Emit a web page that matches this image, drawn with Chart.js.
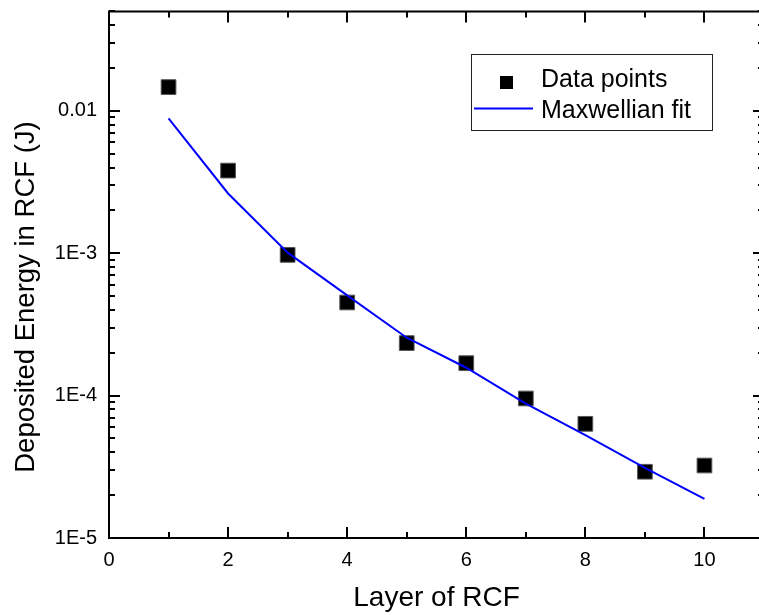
<!DOCTYPE html>
<html><head><meta charset="utf-8">
<script src="https://cdn.jsdelivr.net/npm/chart.js@4/dist/chart.umd.min.js"></script>
<style>html,body{margin:0;padding:0;background:#fff;overflow:hidden;width:759px;height:615px}
canvas{display:block}</style></head>
<body><canvas id="c" width="780" height="615" style="width:780px;height:615px"></canvas>
<script>
// ---- data ----
const layers = [1, 2, 3, 4, 5, 6, 7, 8, 9, 10];
const dataPoints = [0.0147, 0.00381, 0.000975, 0.000451, 0.000234, 0.000169, 0.0000955, 0.0000634, 0.0000292, 0.0000323];
const fitValues = [0.00886, 0.00263, 0.00101, 0.000506, 0.000255, 0.000157, 0.000088, 0.0000528, 0.0000311, 0.0000188];
const seriesLabels = ['Data points', 'Maxwellian fit'];
const xTickValues = [0, 2, 4, 6, 8, 10];
const xMinorTickValues = [1, 3, 5, 7, 9];
const yTickValues = [1e-5, 1e-4, 1e-3, 1e-2];
const yTickLabels = ['1E-5', '1E-4', '1E-3', '0.01'];
const xTitle = 'Layer of RCF';
const yTitle = 'Deposited Energy in RCF (J)';

const FONT = "'Liberation Sans', Arial, sans-serif";
Chart.defaults.font.family = FONT;
Chart.defaults.color = '#000';

// minor decade ticks for the log axis (tick marks only)
const yMinorTickValues = [];
for (let d = -5; d <= -2; d++) {
  for (let m = 2; m <= 9; m++) {
    const v = m * Math.pow(10, d);
    if (v <= 0.05 + 1e-12) yMinorTickValues.push(v);
  }
}

const framePlugin = {
  id: 'frame',
  afterDatasetsDraw(chart) {
    const {ctx, chartArea: a, scales: {x, y}} = chart;
    ctx.save();
    ctx.strokeStyle = '#000';
    ctx.lineWidth = 2;
    ctx.lineCap = 'butt';
    ctx.beginPath();
    ctx.rect(a.left, a.top, a.right - a.left, a.bottom - a.top);
    ctx.stroke();
    const major = 11, minor = 6;
    ctx.beginPath();
    xTickValues.forEach(v => {
      const p = Math.round(x.getPixelForValue(v));
      ctx.moveTo(p, a.bottom); ctx.lineTo(p, a.bottom - major);
      ctx.moveTo(p, a.top); ctx.lineTo(p, a.top + major);
    });
    xMinorTickValues.forEach(v => {
      const p = Math.round(x.getPixelForValue(v));
      ctx.moveTo(p, a.bottom); ctx.lineTo(p, a.bottom - minor);
      ctx.moveTo(p, a.top); ctx.lineTo(p, a.top + minor);
    });
    yTickValues.forEach(v => {
      const p = Math.round(y.getPixelForValue(v));
      ctx.moveTo(a.left, p); ctx.lineTo(a.left + major, p);
      ctx.moveTo(a.right, p); ctx.lineTo(a.right - major, p);
    });
    yMinorTickValues.forEach(v => {
      const p = Math.round(y.getPixelForValue(v));
      ctx.moveTo(a.left, p); ctx.lineTo(a.left + minor, p);
      ctx.moveTo(a.right, p); ctx.lineTo(a.right - minor, p);
    });
    ctx.stroke();
    ctx.restore();
  }
};

const yTitlePlugin = {
  id: 'yTitle',
  afterDraw(chart) {
    const ctx = chart.ctx;
    ctx.save();
    ctx.translate(26, 297);
    ctx.rotate(-Math.PI / 2);
    ctx.fillStyle = '#000';
    ctx.font = '27.5px ' + FONT;
    ctx.textAlign = 'center';
    ctx.textBaseline = 'middle';
    ctx.fillText(yTitle, 0, 0);
    ctx.restore();
  }
};

const legendPlugin = {
  id: 'boxLegend',
  afterDraw(chart) {
    const ctx = chart.ctx;
    const ds = chart.data.datasets;
    ctx.save();
    ctx.fillStyle = '#fff';
    ctx.fillRect(472, 55, 241, 76);
    ctx.strokeStyle = '#222';
    ctx.lineWidth = 1;
    ctx.strokeRect(471.5, 54.5, 241, 76);
    // marker
    ctx.fillStyle = '#000';
    ctx.fillRect(500, 76, 13, 13);
    // line
    ctx.strokeStyle = ds[0].borderColor;
    ctx.lineWidth = 2;
    ctx.beginPath();
    ctx.moveTo(474, 108.5); ctx.lineTo(533, 108.5);
    ctx.stroke();
    ctx.fillStyle = '#000';
    ctx.font = '25px ' + FONT;
    ctx.textBaseline = 'alphabetic';
    ctx.textAlign = 'left';
    ctx.fillText(ds[1].label, 541, 87);
    ctx.fillText(ds[0].label, 541, 117.5);
    ctx.restore();
  }
};

new Chart(document.getElementById('c'), {
  type: 'scatter',
  data: {
    datasets: [
      {
        type: 'line',
        label: seriesLabels[1],
        data: layers.map((l, i) => ({x: l, y: fitValues[i]})),
        borderColor: '#0000ff',
        borderWidth: 2,
        pointRadius: 0,
        tension: 0,
        fill: false,
        order: 0
      },
      {
        type: 'scatter',
        label: seriesLabels[0],
        data: layers.map((l, i) => ({x: l, y: dataPoints[i]})),
        pointStyle: 'rect',
        pointRadius: 10.4,
        backgroundColor: '#000',
        borderColor: '#555',
        borderWidth: 1,
        order: 1
      }
    ]
  },
  options: {
    responsive: false,
    animation: false,
    devicePixelRatio: 1,
    layout: {padding: {top: 10, right: 16, left: 0, bottom: 0}},
    plugins: {legend: {display: false}, tooltip: {enabled: false}},
    scales: {
      x: {
        type: 'linear',
        min: 0, max: 11,
        grid: {display: false, drawTicks: false},
        border: {display: false},
        afterBuildTicks: s => { s.ticks = xTickValues.map(v => ({value: v})); },
        afterFit: s => { s.height = 77; s.paddingLeft = 0; s.paddingRight = 0; },
        ticks: {font: {size: 20}, padding: 10, maxRotation: 0, callback: v => String(v)},
        title: {display: true, text: xTitle, font: {size: 28}, padding: {top: 0, bottom: 0}}
      },
      y: {
        type: 'logarithmic',
        min: 1e-5, max: 0.05,
        grid: {display: false, drawTicks: false},
        border: {display: false},
        afterBuildTicks: s => { s.ticks = yTickValues.map(v => ({value: v})); },
        afterFit: s => { s.width = 109; s.paddingTop = 0; s.paddingBottom = 0; },
        ticks: {font: {size: 20}, padding: 12, callback: (v, i) => yTickLabels[i]},
        title: {display: false, text: yTitle}
      }
    }
  },
  plugins: [framePlugin, legendPlugin, yTitlePlugin]
});
</script>
</body></html>
